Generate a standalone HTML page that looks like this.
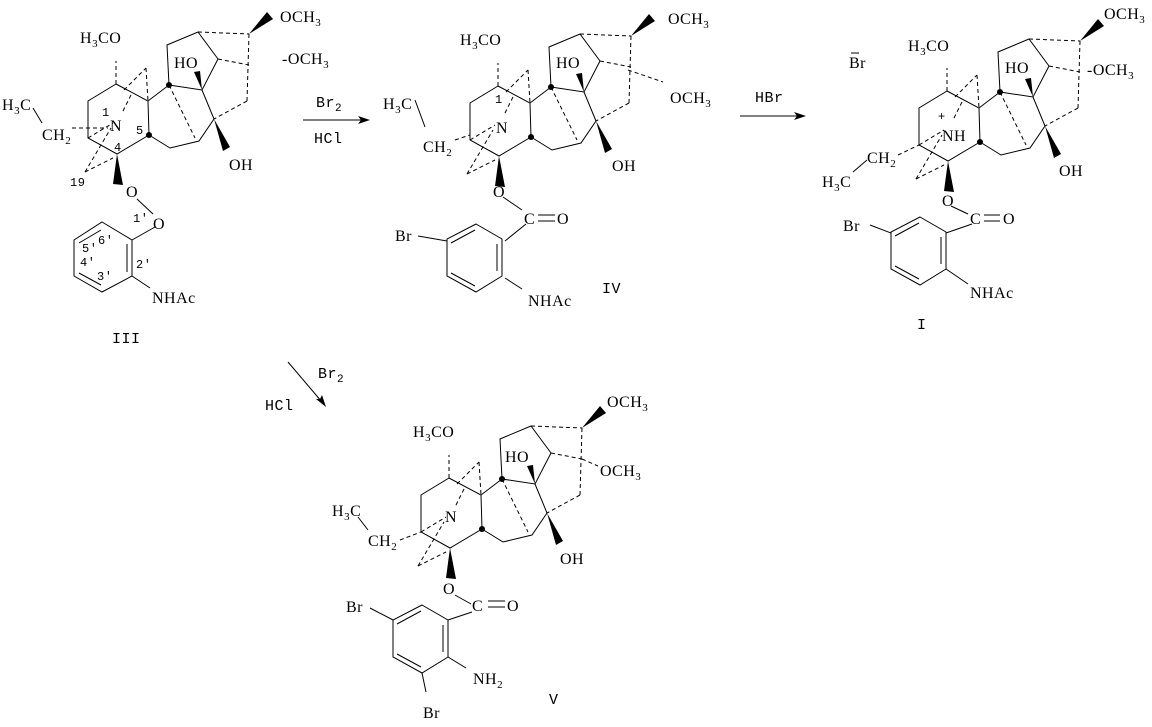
<!DOCTYPE html>
<html><head><meta charset="utf-8"><style>
html,body{margin:0;padding:0;background:#fff;}
svg{display:block;}
text{font-family:"Liberation Serif",serif;font-size:16px;fill:#000;letter-spacing:0.5px;}
.m{font-family:"Liberation Mono",monospace;font-size:15px;}
.s{font-family:"Liberation Mono",monospace;font-size:12px;}
tspan.sub{font-size:11px;}
</style></head><body>
<svg width="1152" height="727" viewBox="0 0 1152 727" xmlns="http://www.w3.org/2000/svg">
<defs>
<g id="core" stroke="#000" stroke-width="1" fill="none">
  <polyline points="449,478 421,495 421,532 450,548 482,529 481,495 449,478"/>
  <line x1="481" y1="495" x2="502" y2="479"/>
  <polyline points="502,479 500,439 531,426 551,453 535,484 502,479"/>
  <line x1="535" y1="484" x2="547" y2="513"/>
  <polyline points="547,513 532,535 503,542 482,529"/>
  <g stroke-dasharray="4,3">
    <line x1="449" y1="478" x2="449" y2="455"/>
    <line x1="457" y1="484" x2="479" y2="462"/>
    <line x1="479" y1="462" x2="481" y2="495"/>
    <line x1="502" y1="479" x2="528" y2="532"/>
    <line x1="531" y1="426" x2="582" y2="428"/>
    <line x1="551" y1="453" x2="582" y2="459"/>
    <line x1="582" y1="428" x2="580" y2="495"/>
    <line x1="580" y1="495" x2="547" y2="513"/>
    <line x1="464" y1="489" x2="455" y2="507"/>
    <line x1="421" y1="532" x2="446" y2="517"/>
    <line x1="418" y1="566" x2="446" y2="552"/>
    <line x1="418" y1="566" x2="444" y2="522"/>
  </g>
  <circle cx="502" cy="479" r="3" fill="#000" stroke="none"/>
  <circle cx="482" cy="529" r="3" fill="#000" stroke="none"/>
  <polygon points="535,484 527,466 533,465" fill="#000" stroke="none"/>
  <polygon points="547,513 556,545 563,541" fill="#000" stroke="none"/>
  <polygon points="582,428 600,406 606,413" fill="#000" stroke="none"/>
  <polygon points="450,548 446,578 456,579" fill="#000" stroke="none"/>
</g>
<g id="bz" stroke="#000" stroke-width="1" fill="none">
  <polygon points="422,605 448,620 448,657 422,673 393,657 393,620"/>
  <line x1="443" y1="625" x2="443" y2="652"/>
  <line x1="397" y1="624" x2="421" y2="611"/>
  <line x1="397" y1="654" x2="421" y2="667"/>
</g>
</defs>

<!-- Arrows -->
<g stroke="#000" stroke-width="1">
  <line x1="303" y1="120" x2="365" y2="120"/>
  <line x1="740" y1="116" x2="800" y2="116"/>
  <line x1="288" y1="362" x2="322" y2="402"/>
</g>
<polygon points="370,120 358,116 361,120 358,124" fill="#000"/>
<polygon points="806,116 794,112 797,116 794,120" fill="#000"/>
<polygon points="326,407 316,399 320,399 322,395" fill="#000"/>
<text class="m" x="316" y="107">Br<tspan class="sub" dy="4">2</tspan></text>
<text class="m" x="314" y="143">HCl</text>
<text class="m" x="755" y="102">HBr</text>
<text class="m" x="318" y="378">Br<tspan class="sub" dy="4">2</tspan></text>
<text class="m" x="265" y="410">HCl</text>

<!-- Structure III -->
<use href="#core" transform="translate(-333,-394)"/>
<g stroke="#000" stroke-width="1" fill="none">
  <line x1="33" y1="108" x2="42" y2="123"/>
  <line x1="72" y1="128" x2="108" y2="128" stroke-dasharray="4,3"/>
  <line x1="137" y1="199" x2="153" y2="214"/>
  <line x1="155" y1="227" x2="132" y2="240"/>
  <polygon points="102,222 132,240 132,276 102,292 74,276 74,240"/>
  <line x1="127" y1="244" x2="127" y2="272"/>
  <line x1="79" y1="243" x2="101" y2="230"/>
  <line x1="79" y1="273" x2="101" y2="285"/>
  <line x1="132" y1="276" x2="150" y2="288"/>
</g>
<text x="80" y="43">H<tspan class="sub" dy="4">3</tspan><tspan dy="-4">CO</tspan></text>
<text x="2" y="110">H<tspan class="sub" dy="4">3</tspan><tspan dy="-4">C</tspan></text>
<text x="42" y="140">CH<tspan class="sub" dy="4">2</tspan></text>
<text x="110" y="131">N</text>
<text class="s" x="102" y="116">1</text>
<text class="s" x="136" y="134">5</text>
<text class="s" x="114" y="151">4</text>
<text class="s" x="70" y="186">19</text>
<text x="126" y="197">O</text>
<text x="153" y="229">O</text>
<text class="s" x="133" y="222">1'</text>
<text class="s" x="98" y="244">6'</text>
<text class="s" x="82" y="252">5'</text>
<text class="s" x="80" y="266">4'</text>
<text class="s" x="97" y="280">3'</text>
<text class="s" x="136" y="268">2'</text>
<text x="152" y="303">NHAc</text>
<text x="282" y="64">-OCH<tspan class="sub" dy="4">3</tspan></text>
<text x="280" y="22">OCH<tspan class="sub" dy="4">3</tspan></text>
<text x="174" y="68">HO</text>
<text x="229" y="170">OH</text>
<text class="m" x="112" y="343">III</text>

<!-- Structure IV -->
<use href="#core" transform="translate(49,-392)"/>
<use href="#bz" transform="translate(54,-381)"/>
<g stroke="#000" stroke-width="1" fill="none">
  <line x1="415" y1="100" x2="425" y2="127"/>
  <line x1="455" y1="140" x2="470" y2="135" stroke-dasharray="4,3"/>
  <line x1="628" y1="70" x2="663" y2="82" stroke-dasharray="4,3"/>
  <line x1="503" y1="197" x2="522" y2="210"/>
  <line x1="538" y1="215" x2="555" y2="215"/>
  <line x1="538" y1="221" x2="555" y2="221"/>
  <line x1="526" y1="224" x2="505" y2="241"/>
  <line x1="418" y1="236" x2="447" y2="241"/>
  <line x1="505" y1="278" x2="522" y2="289"/>
</g>
<text x="460" y="45">H<tspan class="sub" dy="4">3</tspan><tspan dy="-4">CO</tspan></text>
<text x="383" y="109">H<tspan class="sub" dy="4">3</tspan><tspan dy="-4">C</tspan></text>
<text x="423" y="152">CH<tspan class="sub" dy="4">2</tspan></text>
<text x="496" y="133">N</text>
<text class="s" x="495" y="103">1</text>
<text x="493" y="197">O</text>
<text x="524" y="224">C</text>
<text x="557" y="224">O</text>
<text x="395" y="241">Br</text>
<text x="528" y="306">NHAc</text>
<text x="668" y="24">OCH<tspan class="sub" dy="4">3</tspan></text>
<text x="670" y="103">OCH<tspan class="sub" dy="4">3</tspan></text>
<text x="556" y="68">HO</text>
<text x="612" y="171">OH</text>
<text class="m" x="602" y="293">IV</text>

<!-- Structure I -->
<use href="#core" transform="translate(498,-387)"/>
<use href="#bz" transform="translate(498,-388)"/>
<g stroke="#000" stroke-width="1" fill="none">
  <line x1="853" y1="172" x2="867" y2="160"/>
  <line x1="898" y1="155" x2="919" y2="145" stroke-dasharray="4,3"/>
  <line x1="951" y1="206" x2="968" y2="214"/>
  <line x1="984" y1="215" x2="1000" y2="215"/>
  <line x1="984" y1="221" x2="1000" y2="221"/>
  <line x1="972" y1="224" x2="946" y2="233"/>
  <line x1="870" y1="225" x2="891" y2="233"/>
  <line x1="946" y1="269" x2="968" y2="284"/>
</g>
<text x="849" y="68">Br</text>
<line x1="851" y1="53" x2="859" y2="53" stroke="#000"/>
<text x="908" y="51">H<tspan class="sub" dy="4">3</tspan><tspan dy="-4">CO</tspan></text>
<text class="s" x="938" y="120">+</text>
<text x="942" y="141">NH</text>
<text x="867" y="163">CH<tspan class="sub" dy="4">2</tspan></text>
<text x="822" y="187">H<tspan class="sub" dy="4">3</tspan><tspan dy="-4">C</tspan></text>
<text x="942" y="206">O</text>
<text x="970" y="224">C</text>
<text x="1003" y="224">O</text>
<text x="843" y="231">Br</text>
<text x="970" y="298">NHAc</text>
<text x="1104" y="19">OCH<tspan class="sub" dy="4">3</tspan></text>
<text x="1087" y="75">-OCH<tspan class="sub" dy="4">3</tspan></text>
<text x="1005" y="73">HO</text>
<text x="1059" y="176">OH</text>
<text class="m" x="917" y="329">I</text>

<!-- Structure V -->
<use href="#core"/>
<use href="#bz"/>
<g stroke="#000" stroke-width="1" fill="none">
  <line x1="455" y1="595" x2="471" y2="604"/>
  <line x1="488" y1="601" x2="505" y2="601"/>
  <line x1="488" y1="607" x2="505" y2="607"/>
  <line x1="472" y1="612" x2="448" y2="620"/>
  <line x1="358" y1="517" x2="368" y2="530"/>
  <line x1="400" y1="540" x2="421" y2="532" stroke-dasharray="4,3"/>
  <line x1="370" y1="608" x2="393" y2="620"/>
  <line x1="448" y1="657" x2="466" y2="668"/>
  <line x1="422" y1="673" x2="426" y2="692"/>
  <line x1="582" y1="459" x2="598" y2="466" stroke-dasharray="4,3"/>
</g>
<text x="413" y="437">H<tspan class="sub" dy="4">3</tspan><tspan dy="-4">CO</tspan></text>
<text x="332" y="516">H<tspan class="sub" dy="4">3</tspan><tspan dy="-4">C</tspan></text>
<text x="368" y="546">CH<tspan class="sub" dy="4">2</tspan></text>
<text x="445" y="522">N</text>
<text x="443" y="594">O</text>
<text x="472" y="611">C</text>
<text x="507" y="611">O</text>
<text x="346" y="612">Br</text>
<text x="473" y="684">NH<tspan class="sub" dy="4">2</tspan></text>
<text x="423" y="718">Br</text>
<text x="607" y="407">OCH<tspan class="sub" dy="4">3</tspan></text>
<text x="600" y="476">OCH<tspan class="sub" dy="4">3</tspan></text>
<text x="505" y="462">HO</text>
<text x="560" y="564">OH</text>
<text class="m" x="549" y="704">V</text>
</svg>
</body></html>
